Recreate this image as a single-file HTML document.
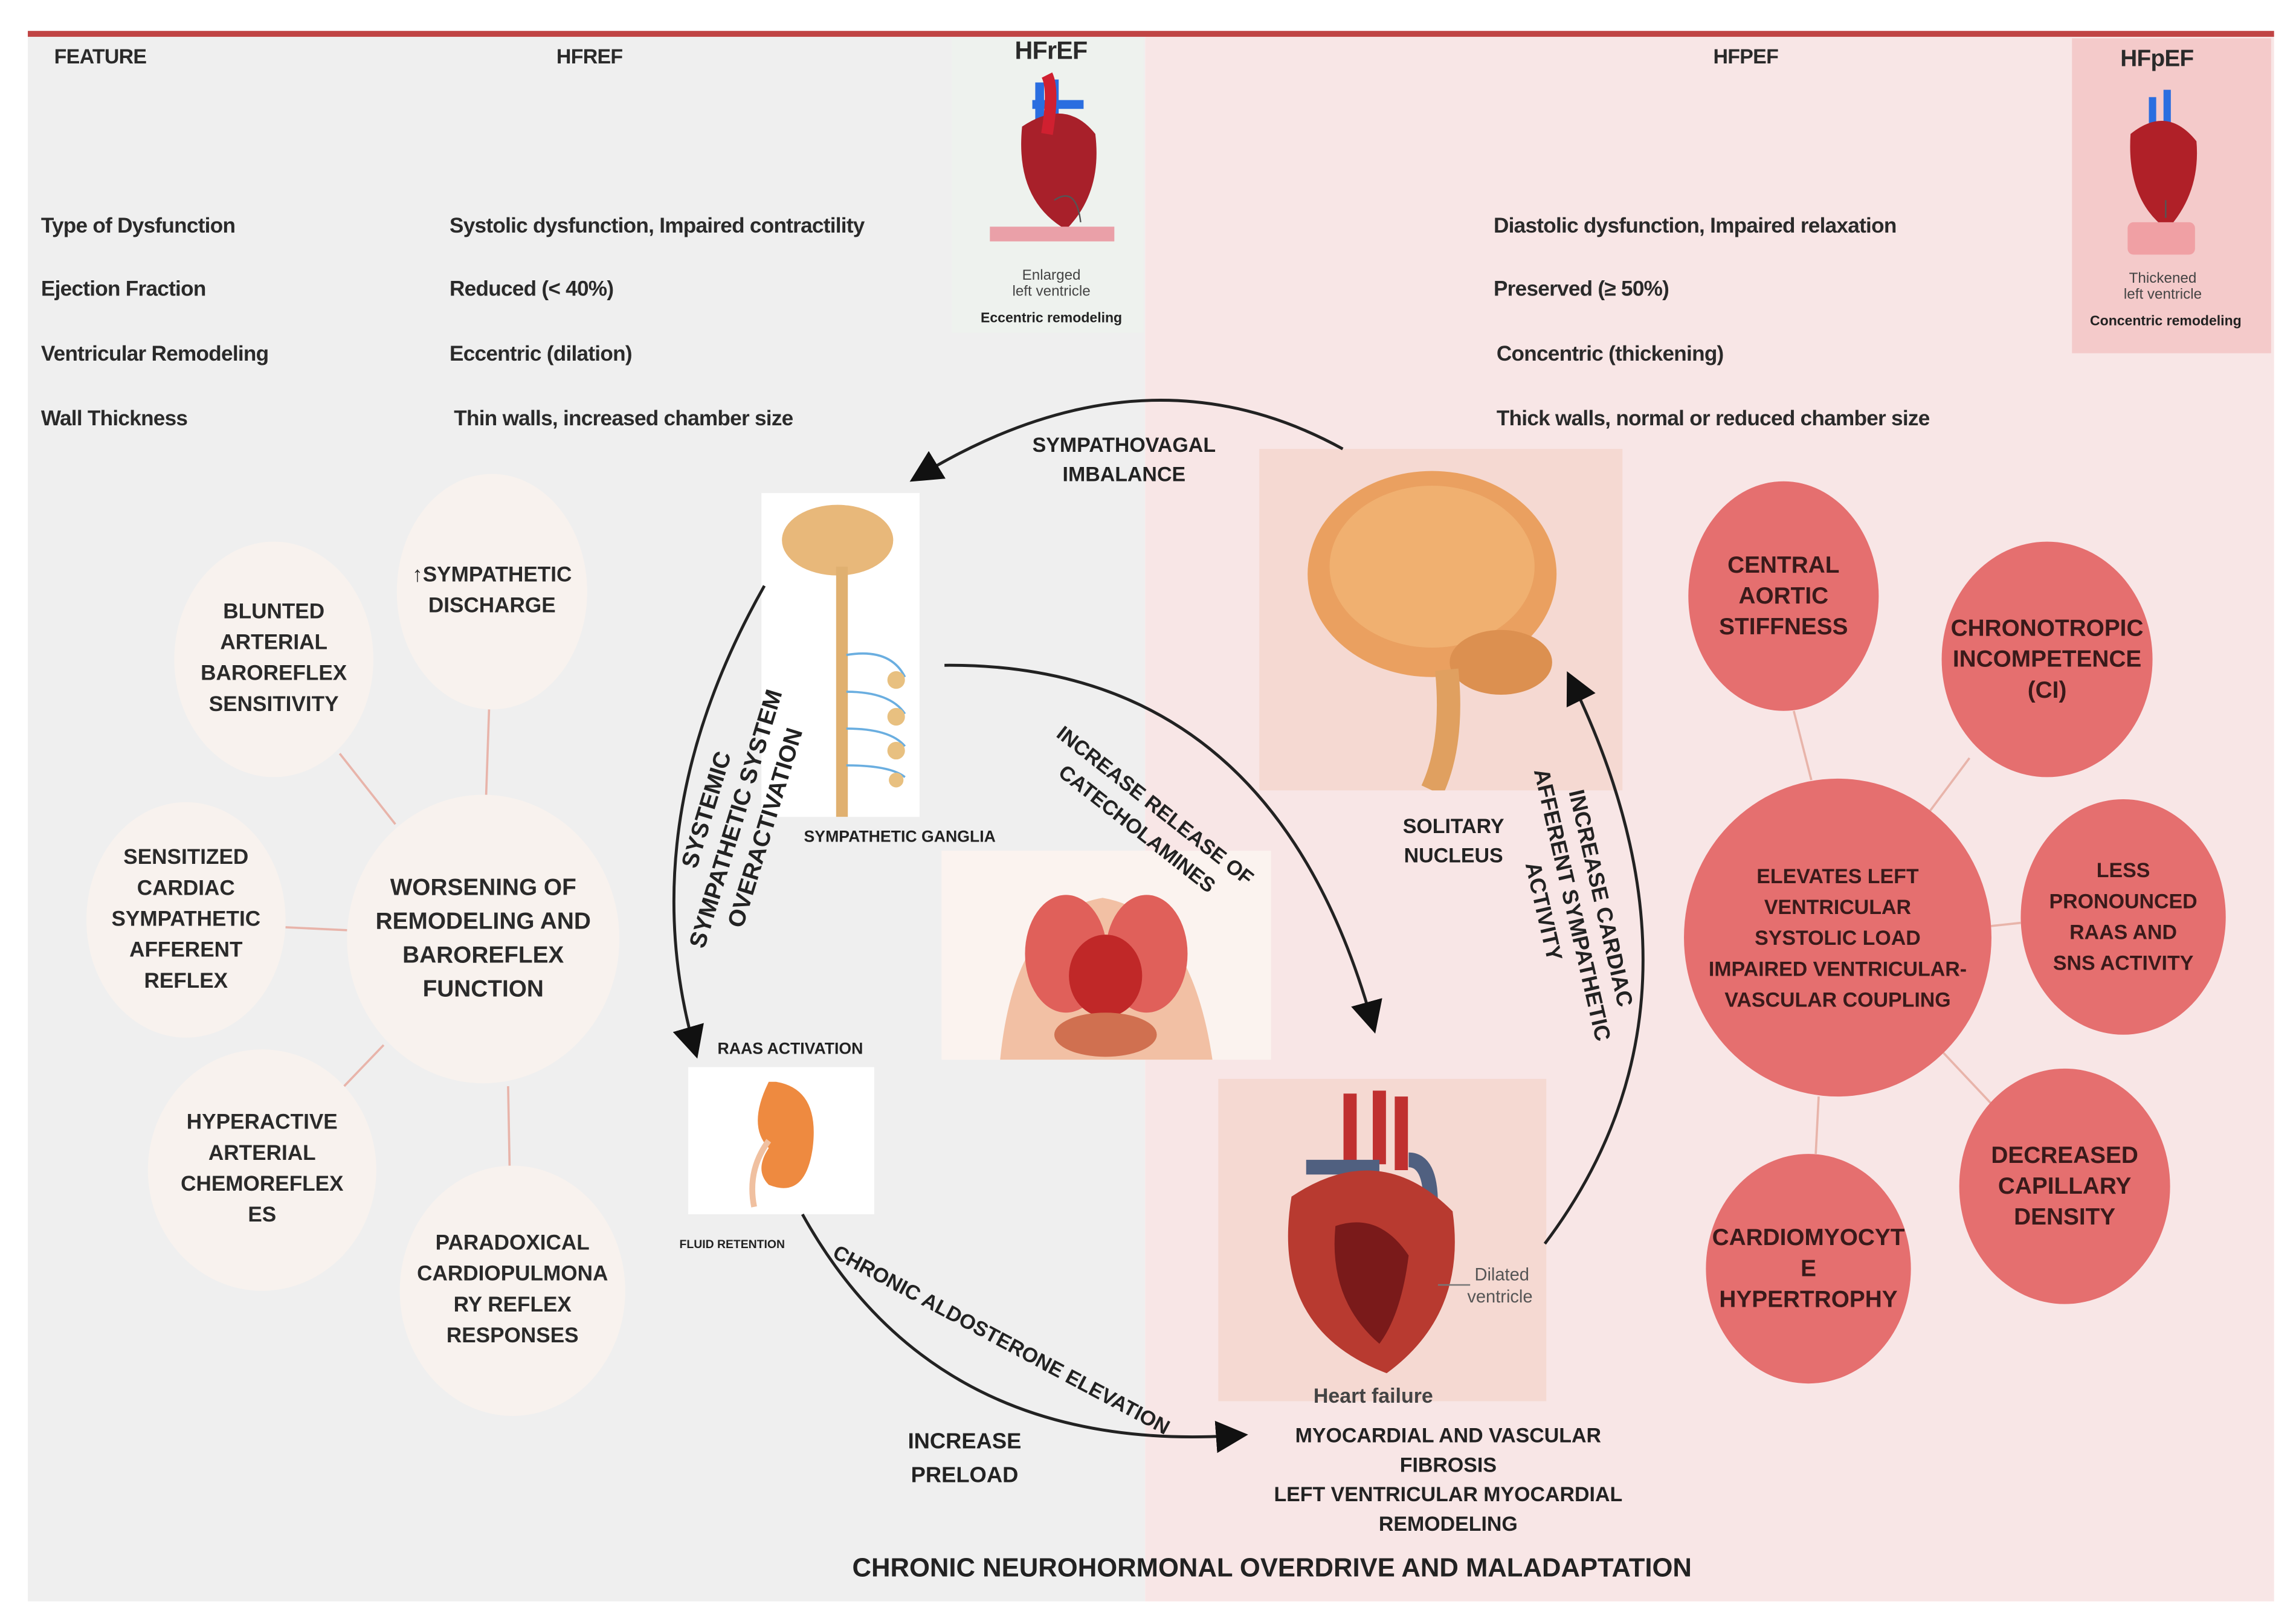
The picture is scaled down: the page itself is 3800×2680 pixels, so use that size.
<!DOCTYPE html>
<html><head><meta charset="utf-8">
<style>
html,body{margin:0;padding:0;background:#fff;}
body{width:3800px;height:2680px;overflow:hidden;position:relative;}
#s{position:absolute;left:0;top:0;width:1568px;height:1100px;transform:scale(2.4235,2.4364);transform-origin:0 0;font-family:"Liberation Sans",sans-serif;font-weight:bold;color:#222;}
.a{position:absolute;}
.t{position:absolute;font-size:14.5px;white-space:nowrap;letter-spacing:-0.3px;color:#2a2a2a;}
.c{position:absolute;border-radius:50%;display:flex;align-items:center;justify-content:center;text-align:center;font-size:14.5px;line-height:21px;color:#2a2a2a;}
.lc{background:#f8f2ee;}
.rc{background:#e56f6f;color:#3a1a1a;}
.lab{position:absolute;font-size:14px;text-align:center;line-height:20px;white-space:nowrap;color:#222;}
</style></head><body>
<div id="s">
<div class="a" style="left:19px;top:24px;width:763px;height:1064px;background:#efefef"></div>
<div class="a" style="left:782px;top:24px;width:771px;height:1064px;background:#f8e6e6"></div>
<div class="a" style="left:19px;top:21px;width:1534px;height:4px;background:#c04444"></div>
<div class="a" style="left:650px;top:26px;width:131px;height:200px;background:#eef2ee"></div>
<div class="a" style="left:1415px;top:26px;width:136px;height:214px;background:#f4caca"></div>

<div class="t" style="left:37px;top:30px;font-size:14px">FEATURE</div>
<div class="t" style="left:380px;top:30px;font-size:14px">HFREF</div>
<div class="t" style="left:1170px;top:30px;font-size:14px">HFPEF</div>
<div class="t" style="left:693px;top:25px;font-size:17px">HFrEF</div>
<div class="t" style="left:1448px;top:32px;font-size:16px">HFpEF</div>

<div class="t" style="left:28px;top:146px">Type of  Dysfunction</div>
<div class="t" style="left:28px;top:189px">Ejection Fraction</div>
<div class="t" style="left:28px;top:233px">Ventricular Remodeling</div>
<div class="t" style="left:28px;top:277px">Wall Thickness</div>
<div class="t" style="left:307px;top:146px">Systolic dysfunction,  Impaired contractility</div>
<div class="t" style="left:307px;top:189px">Reduced (&lt; 40%)</div>
<div class="t" style="left:307px;top:233px">Eccentric (dilation)</div>
<div class="t" style="left:310px;top:277px">Thin walls, increased chamber size</div>
<div class="t" style="left:1020px;top:146px">Diastolic dysfunction,  Impaired relaxation</div>
<div class="t" style="left:1020px;top:189px">Preserved (≥ 50%)</div>
<div class="t" style="left:1022px;top:233px">Concentric (thickening)</div>
<div class="t" style="left:1022px;top:277px">Thick walls, normal or reduced chamber size</div>

<svg class="a" style="left:650px;top:26px" width="131" height="200">
<path d="M60 30 v30 M70 28 v30 M55 45 h35" stroke="#2a6ee0" stroke-width="6" fill="none"/>
<path d="M48 60 q30 -20 50 5 q5 40 -20 65 q-35 -20 -30 -70z" fill="#a8202a"/>
<path d="M65 25 q5 10 0 40" stroke="#d02030" stroke-width="8" fill="none"/>
<path d="M70 110 q15 -10 18 15" stroke="#555" fill="none"/>
<rect x="26" y="128" width="85" height="10" fill="#eaa0a8"/>
<text x="68" y="164" font-size="10" text-anchor="middle" font-weight="normal" fill="#444">Enlarged</text>
<text x="68" y="175" font-size="10" text-anchor="middle" font-weight="normal" fill="#444">left ventricle</text>
<text x="68" y="193" font-size="9.5" text-anchor="middle" fill="#222">Eccentric remodeling</text>
</svg>
<svg class="a" style="left:1415px;top:26px" width="136" height="214">
<path d="M55 40 v25 M65 35 v25" stroke="#2a6ee0" stroke-width="5" fill="none"/>
<path d="M40 65 q25 -20 45 5 q3 35 -20 60 q-28 -20 -25 -65z" fill="#b02028"/>
<path d="M64 110 v12" stroke="#555"/>
<rect x="38" y="125" width="46" height="22" rx="4" fill="#f0a0a4"/>
<text x="62" y="166" font-size="10" text-anchor="middle" font-weight="normal" fill="#444">Thickened</text>
<text x="62" y="177" font-size="10" text-anchor="middle" font-weight="normal" fill="#444">left ventricle</text>
<text x="64" y="195" font-size="9.5" text-anchor="middle" fill="#222">Concentric remodeling</text>
</svg>

<svg class="a" style="left:0;top:0" width="1568" height="1100">
<g stroke="#e8b4aa" stroke-width="1.5">
<line x1="334" y1="482" x2="332" y2="540"/>
<line x1="232" y1="512" x2="270" y2="560"/>
<line x1="195" y1="630" x2="237" y2="632"/>
<line x1="235" y1="738" x2="262" y2="710"/>
<line x1="347" y1="738" x2="348" y2="792"/>
<line x1="1225" y1="483" x2="1237" y2="530"/>
<line x1="1345" y1="515" x2="1315" y2="555"/>
<line x1="1352" y1="630" x2="1380" y2="627"/>
<line x1="1325" y1="713" x2="1360" y2="750"/>
<line x1="1242" y1="745" x2="1240" y2="784"/>
</g>
</svg>

<div class="c lc" style="left:271px;top:322px;width:130px;height:160px">↑SYMPATHETIC<br>DISCHARGE</div>
<div class="c lc" style="left:119px;top:368px;width:136px;height:160px">BLUNTED<br>ARTERIAL<br>BAROREFLEX<br>SENSITIVITY</div>
<div class="c lc" style="left:59px;top:545px;width:136px;height:160px">SENSITIZED<br>CARDIAC<br>SYMPATHETIC<br>AFFERENT<br>REFLEX</div>
<div class="c lc" style="left:237px;top:540px;width:186px;height:196px;font-size:16px;line-height:23px">WORSENING OF<br>REMODELING AND<br>BAROREFLEX<br>FUNCTION</div>
<div class="c lc" style="left:101px;top:713px;width:156px;height:164px">HYPERACTIVE<br>ARTERIAL<br>CHEMOREFLEX<br>ES</div>
<div class="c lc" style="left:273px;top:792px;width:154px;height:170px">PARADOXICAL<br>CARDIOPULMONA<br>RY REFLEX<br>RESPONSES</div>

<div class="c rc" style="left:1153px;top:327px;width:130px;height:156px;font-size:16px">CENTRAL<br>AORTIC<br>STIFFNESS</div>
<div class="c rc" style="left:1326px;top:368px;width:144px;height:160px;font-size:16px">CHRONOTROPIC<br>INCOMPETENCE<br>(CI)</div>
<div class="c rc" style="left:1150px;top:529px;width:210px;height:216px;font-size:14px">ELEVATES LEFT<br>VENTRICULAR<br>SYSTOLIC LOAD<br>IMPAIRED VENTRICULAR-<br>VASCULAR COUPLING</div>
<div class="c rc" style="left:1380px;top:543px;width:140px;height:160px;font-size:14px">LESS<br>PRONOUNCED<br>RAAS AND<br>SNS ACTIVITY</div>
<div class="c rc" style="left:1338px;top:726px;width:144px;height:160px;font-size:16px">DECREASED<br>CAPILLARY<br>DENSITY</div>
<div class="c rc" style="left:1165px;top:784px;width:140px;height:156px;font-size:16px">CARDIOMYOCYT<br>E<br>HYPERTROPHY</div>

<div class="a" style="left:520px;top:335px;width:108px;height:220px;background:#fff"></div>
<svg class="a" style="left:520px;top:335px" width="108" height="220">
<ellipse cx="52" cy="32" rx="38" ry="24" fill="#e8b87a"/>
<path d="M55 50 v170" stroke="#e0b070" stroke-width="8"/>
<g stroke="#6aaee0" stroke-width="1.5" fill="none"><path d="M58 110 q30 -5 40 15 M58 135 q30 0 40 15 M58 160 q30 0 40 12 M58 185 q30 0 40 8"/></g>
<g fill="#e8c080"><circle cx="92" cy="127" r="6"/><circle cx="92" cy="152" r="6"/><circle cx="92" cy="175" r="6"/><circle cx="92" cy="195" r="5"/></g>
</svg>
<div class="a" style="left:860px;top:305px;width:248px;height:232px;background:#f5d9d2"></div>
<svg class="a" style="left:860px;top:305px" width="248" height="232">
<ellipse cx="118" cy="85" rx="85" ry="70" fill="#eaa060"/>
<ellipse cx="118" cy="80" rx="70" ry="55" fill="#f0b070"/>
<ellipse cx="165" cy="145" rx="35" ry="22" fill="#dc9050"/>
<path d="M128 150 q5 50 -10 82" stroke="#e0a060" stroke-width="16" fill="none"/>
</svg>
<div class="a" style="left:643px;top:578px;width:225px;height:142px;background:#fbf3ef"></div>
<svg class="a" style="left:643px;top:578px" width="225" height="142">
<path d="M40 142 q10 -100 70 -110 q60 10 75 110z" fill="#f2c0a4"/>
<ellipse cx="85" cy="70" rx="28" ry="40" fill="#e0605a"/>
<ellipse cx="140" cy="70" rx="28" ry="40" fill="#e0605a"/>
<ellipse cx="112" cy="85" rx="25" ry="28" fill="#c02828"/>
<ellipse cx="112" cy="125" rx="35" ry="15" fill="#d07050"/>
</svg>
<div class="a" style="left:470px;top:725px;width:127px;height:100px;background:#fff"></div>
<svg class="a" style="left:470px;top:725px" width="127" height="100">
<path d="M60 10 q30 5 25 45 q-5 35 -30 25 q-10 -10 0 -25 q-15 -15 0 -45z" fill="#ee8a40"/>
<path d="M55 50 q-15 20 -10 45" stroke="#f0c0a0" stroke-width="4" fill="none"/>
</svg>
<div class="a" style="left:832px;top:733px;width:224px;height:219px;background:#f5d9d2"></div>
<svg class="a" style="left:832px;top:733px" width="224" height="230">
<path d="M90 10 v50 M110 8 v50 M125 12 v50" stroke="#c03030" stroke-width="9"/>
<path d="M60 60 h50 M130 55 q15 0 15 30" stroke="#506080" stroke-width="10" fill="none"/>
<path d="M50 80 q60 -40 110 10 q10 70 -45 110 q-80 -30 -65 -120z" fill="#b83a30"/>
<path d="M80 100 q30 -10 50 20 q-5 40 -20 60 q-35 -30 -30 -80z" fill="#7a1a1a"/>
<text x="175" y="137" font-size="12" font-weight="normal" fill="#555">Dilated</text>
<text x="170" y="152" font-size="12" font-weight="normal" fill="#555">ventricle</text>
<line x1="150" y1="140" x2="172" y2="140" stroke="#777"/>
<text x="65" y="220" font-size="14" fill="#444">Heart failure</text>
</svg>

<svg class="a" style="left:0;top:0" width="1568" height="1100">
<defs><marker id="M" viewBox="0 0 10 10" markerWidth="22" markerHeight="22" refX="8" refY="5" orient="auto" markerUnits="userSpaceOnUse"><path d="M0 0 L10 5 L0 10z" fill="#111"/></marker></defs>
<g stroke="#222" stroke-width="2" fill="none">
<path d="M917 305 Q780 230 625 325" marker-end="url(#M)"/>
<path d="M522 398 Q430 560 475 715" marker-end="url(#M)"/>
<path d="M645 452 Q870 450 938 698" marker-end="url(#M)"/>
<path d="M1055 845 Q1180 680 1072 460" marker-end="url(#M)"/>
<path d="M548 825 Q640 990 848 975" marker-end="url(#M)"/>
</g>
</svg>

<div class="lab" style="left:705px;top:292px">SYMPATHOVAGAL<br>IMBALANCE</div>
<div class="lab" style="left:549px;top:559px;font-size:11px">SYMPATHETIC GANGLIA</div>
<div class="lab" style="left:958px;top:551px">SOLITARY<br>NUCLEUS</div>
<div class="lab" style="left:490px;top:703px;font-size:11px">RAAS ACTIVATION</div>
<div class="lab" style="left:464px;top:836px;font-size:8px">FLUID RETENTION</div>
<div class="lab" style="left:412px;top:525px;font-size:16px;line-height:21px;transform:rotate(-73deg);transform-origin:center">SYSTEMIC<br>SYMPATHETIC SYSTEM<br>OVERACTIVATION</div>
<div class="lab" style="left:700px;top:535px;transform:rotate(38deg);transform-origin:center">INCREASE RELEASE OF<br>CATECHOLAMINES</div>
<div class="lab" style="left:978px;top:585px;font-size:15px;transform:rotate(77deg);transform-origin:center">INCREASE CARDIAC<br>AFFERENT SYMPATHETIC<br>ACTIVITY</div>
<div class="lab" style="left:555px;top:900px;transform:rotate(28deg);transform-origin:center">CHRONIC ALDOSTERONE ELEVATION</div>
<div class="lab" style="left:620px;top:968px;font-size:15px;line-height:23px">INCREASE<br>PRELOAD</div>
<div class="lab" style="left:870px;top:965px;line-height:20px">MYOCARDIAL AND VASCULAR<br>FIBROSIS<br>LEFT VENTRICULAR MYOCARDIAL<br>REMODELING</div>
<div class="lab" style="left:582px;top:1055px;font-size:18px">CHRONIC NEUROHORMONAL OVERDRIVE AND MALADAPTATION</div>
</div>
</body></html>
